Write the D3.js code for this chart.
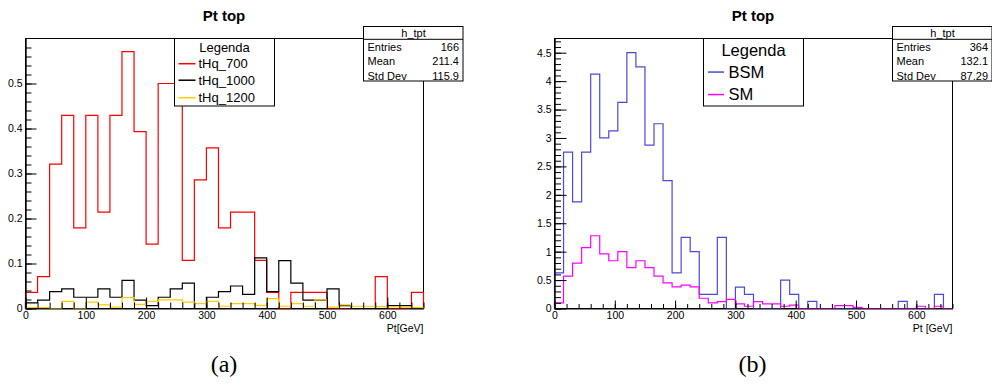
<!DOCTYPE html>
<html>
<head>
<meta charset="utf-8">
<script src="https://cdn.jsdelivr.net/npm/d3@7/dist/d3.min.js"></script>
<style>
  body { margin: 0; background: #fff; }
  text { font-family: "Liberation Sans", Arial, sans-serif; }
</style>
</head>
<body>
<svg id="chart" width="992" height="385"></svg>
<script>
// ---- data

// panel (a): 33 bins of 20 GeV
var edgesA = [0, 20, 40, 60, 80, 100, 120, 140, 160, 180, 200, 220, 240, 260, 280, 300, 320,
    340, 360, 380, 400, 420, 440, 460, 480, 500, 520, 540, 560, 580, 600, 620, 640, 660];
var tHq700 = [0.036, 0.071, 0.321, 0.429, 0.179, 0.429, 0.214, 0.429, 0.571, 0.393, 0.143,
    0.5, 0.5, 0.107, 0.286, 0.357, 0.179, 0.214, 0.214, 0.107, 0.036, 0, 0.036, 0.036,
    0.036, 0, 0, 0, 0, 0.071, 0, 0, 0.036];
var tHq1000 = [0.0125, 0.0188, 0.0375, 0.0438, 0.025, 0.025, 0.0438, 0.025, 0.0625, 0.0188,
    0.0063, 0.025, 0.0438, 0.0563, 0, 0.025, 0.0375, 0.05, 0.0313, 0.1125, 0.0375, 0.1063,
    0.0563, 0.0188, 0.0188, 0.0438, 0.0063, 0, 0, 0, 0.0063, 0.0063, 0];
var tHq1200 = [0.002, 0.002, 0, 0.016, 0, 0.014, 0.008, 0.003, 0.024, 0.009, 0.016, 0.019,
    0.019, 0.014, 0.011, 0.016, 0.005, 0.011, 0.011, 0.007, 0.022, 0.005, 0.011, 0.005,
    0.019, 0.003, 0.008, 0.005, 0.005, 0.004, 0.004, 0.003, 0.002];

// panel (b): 44 bins of 15 GeV
var edgesB = [0, 15, 30, 45, 60, 75, 90, 105, 120, 135, 150, 165, 180, 195, 210, 225, 240,
    255, 270, 285, 300, 315, 330, 345, 360, 375, 390, 405, 420, 435, 450, 465, 480, 495,
    510, 525, 540, 555, 570, 585, 600, 615, 630, 645, 660];
var bsm = [0.625, 2.75, 1.875, 2.75, 4.125, 3, 3.125, 3.625, 4.5, 4.25, 2.875, 3.25, 2.25,
    0.625, 1.25, 1, 0.25, 0.25, 1.25, 0, 0.375, 0.25, 0, 0, 0, 0.5, 0.25, 0, 0.125, 0,
    0, 0, 0, 0, 0, 0, 0, 0, 0.125, 0, 0, 0, 0.25, 0];
var sm = [0.10, 0.57, 0.80, 1.07, 1.28, 0.96, 0.84, 1.00, 0.72, 0.84, 0.72, 0.57, 0.45,
    0.38, 0.41, 0.38, 0.18, 0.10, 0.12, 0.16, 0.08, 0.04, 0.12, 0.08, 0.08, 0.04, 0.06, 0,
    0, 0, 0, 0.05, 0.05, 0.02, 0, 0, 0, 0, 0, 0, 0.04, 0, 0.04, 0];

var xTicks = [0, 100, 200, 300, 400, 500, 600];
var yTicksA = [0, 0.1, 0.2, 0.3, 0.4, 0.5];
var yTicksB = [0, 0.5, 1, 1.5, 2, 2.5, 3, 3.5, 4, 4.5];

var legendA = ["tHq_700", "tHq_1000", "tHq_1200"];
var legendB = ["BSM", "SM"];
var statLabels = ["Entries", "Mean", "Std Dev"];
var statsA = ["166", "211.4", "115.9"];
var statsB = ["364", "132.1", "87.29"];

var svg = d3.select("#chart");

function drawPanel(p) {
    var g = svg.append("g");
    var x = d3.scaleLinear().domain([0, 660]).range([p.left, p.right]);
    var y = d3.scaleLinear().domain([0, p.yMax]).range([p.bottom, p.top]);

    // frame
    g.append("rect")
        .attr("x", p.left).attr("y", p.top)
        .attr("width", p.right - p.left).attr("height", p.bottom - p.top)
        .attr("fill", "none").attr("stroke", "#000").attr("stroke-width", 1);

    // histograms as step outlines
    p.series.forEach(function(s) {
        var pts = [[x(p.edges[0]), y(0)]];
        s.values.forEach(function(v, i) {
            pts.push([x(p.edges[i]), y(v)]);
            pts.push([x(p.edges[i + 1]), y(v)]);
        });
        pts.push([x(p.edges[p.edges.length - 1]), y(0)]);
        g.append("path")
            .attr("d", d3.line()(pts))
            .attr("fill", "none")
            .attr("stroke", s.color)
            .attr("stroke-width", 1.2);
    });

    // axes: ticks point into the frame, like root
    var yMinor = d3.range(0, p.yMax, p.yMinorStep);
    var xMinor = d3.range(0, 661, 20);

    g.append("g").attr("transform", "translate(" + p.left + ",0)")
        .call(d3.axisLeft(y).tickValues(yMinor).tickSize(-p.minorLen).tickFormat("").tickSizeOuter(0))
        .select(".domain").remove();
    var ya = g.append("g").attr("transform", "translate(" + p.left + ",0)")
        .call(d3.axisLeft(y).tickValues(p.yTicks).tickSize(-p.majorLen).tickPadding(3)
            .tickFormat(d3.format("~g")).tickSizeOuter(0));
    ya.select(".domain").attr("stroke-width", 1.4);

    g.append("g").attr("transform", "translate(0," + p.bottom + ")")
        .call(d3.axisBottom(x).tickValues(xMinor).tickSize(-p.xMinorLen).tickFormat("").tickSizeOuter(0))
        .select(".domain").remove();
    var xa = g.append("g").attr("transform", "translate(0," + p.bottom + ")")
        .call(d3.axisBottom(x).tickValues(xTicks).tickSize(-p.xMajorLen).tickPadding(3).tickSizeOuter(0));

    [ya, xa].forEach(function(a) {
        a.attr("font-family", "Liberation Sans, Arial, sans-serif").attr("font-size", 10.5);
    });
    xa.selectAll(".tick text").attr("dy", "0.75em");

    g.append("text")
        .attr("x", p.right).attr("y", p.bottom + 23.5)
        .attr("text-anchor", "end").attr("font-size", 10.5)
        .text(p.xLabel);

    // title
    g.append("text")
        .attr("x", p.titleX).attr("y", 21)
        .attr("text-anchor", "middle").attr("font-size", 15).attr("font-weight", "bold")
        .text("Pt top");

    // legend
    var L = p.legend;
    var lg = g.append("g").attr("transform", "translate(" + L.x + "," + p.top + ")");
    lg.append("rect").attr("width", L.w).attr("height", L.h)
        .attr("fill", "#fff").attr("stroke", "#000");
    lg.append("text").attr("x", L.w / 2).attr("y", L.rowY[0])
        .attr("text-anchor", "middle").attr("font-size", L.font).text("Legenda");
    L.names.forEach(function(name, i) {
        lg.append("line")
            .attr("x1", L.lineX[0]).attr("x2", L.lineX[1])
            .attr("y1", L.rowY[i + 1] - L.font * 0.33).attr("y2", L.rowY[i + 1] - L.font * 0.33)
            .attr("stroke", p.series[i].color).attr("stroke-width", 1.5);
        lg.append("text").attr("x", L.textX).attr("y", L.rowY[i + 1])
            .attr("font-size", L.font).text(name);
    });

    // stats box
    var S = p.stats;
    var sg = g.append("g").attr("transform", "translate(" + S.x + ",26.5)");
    sg.append("rect").attr("width", 99.5).attr("height", 54.5)
        .attr("fill", "#fff").attr("stroke", "#000");
    sg.append("line").attr("x1", 0).attr("x2", 99.5).attr("y1", 12.8).attr("y2", 12.8)
        .attr("stroke", "#000");
    sg.append("text").attr("x", 50).attr("y", 10.5).attr("text-anchor", "middle")
        .attr("font-size", 11).text("h_tpt");
    statLabels.forEach(function(lab, i) {
        var yy = 24.5 + i * 14.3;
        sg.append("text").attr("x", 4).attr("y", yy).attr("font-size", 11).text(lab);
        sg.append("text").attr("x", 95.5).attr("y", yy).attr("text-anchor", "end")
            .attr("font-size", 11).text(S.values[i]);
    });

    // sub-figure caption
    svg.append("text")
        .attr("x", p.captionX).attr("y", 372)
        .attr("text-anchor", "middle")
        .style("font-family", "'Liberation Serif', 'Times New Roman', serif")
        .attr("font-size", 24)
        .text(p.caption);
}

drawPanel({
    left: 25.5, right: 423.5, top: 38.5, bottom: 308.5,
    yMax: 0.6, yTicks: yTicksA, yMinorStep: 0.02,
    majorLen: 11, minorLen: 6, xMajorLen: 11, xMinorLen: 6,
    edges: edgesA,
    series: [
        { values: tHq700, color: "#ff0000" },
        { values: tHq1000, color: "#000000" },
        { values: tHq1200, color: "#ffcc00" }
    ],
    xLabel: "Pt[GeV]", titleX: 224,
    legend: { x: 174.5, w: 100, h: 67.5, font: 13, names: legendA,
        rowY: [13, 29.5, 46, 63.5], lineX: [4, 21], textX: 24 },
    stats: { x: 363.5, values: statsA },
    caption: "(a)", captionX: 224
});

drawPanel({
    left: 554.5, right: 952.5, top: 38.5, bottom: 308.5,
    yMax: 4.75, yTicks: yTicksB, yMinorStep: 0.1,
    majorLen: 12, minorLen: 6.5, xMajorLen: 8, xMinorLen: 4.5,
    edges: edgesB,
    series: [
        { values: bsm, color: "#4a4ad6" },
        { values: sm, color: "#ff00ff" }
    ],
    xLabel: "Pt [GeV]", titleX: 753,
    legend: { x: 703.5, w: 100, h: 67.5, font: 16.5, names: legendB,
        rowY: [17.5, 39, 61.5], lineX: [4.5, 20.5], textX: 25 },
    stats: { x: 892.5, values: statsB },
    caption: "(b)", captionX: 752.5
});
</script>
</body>
</html>
